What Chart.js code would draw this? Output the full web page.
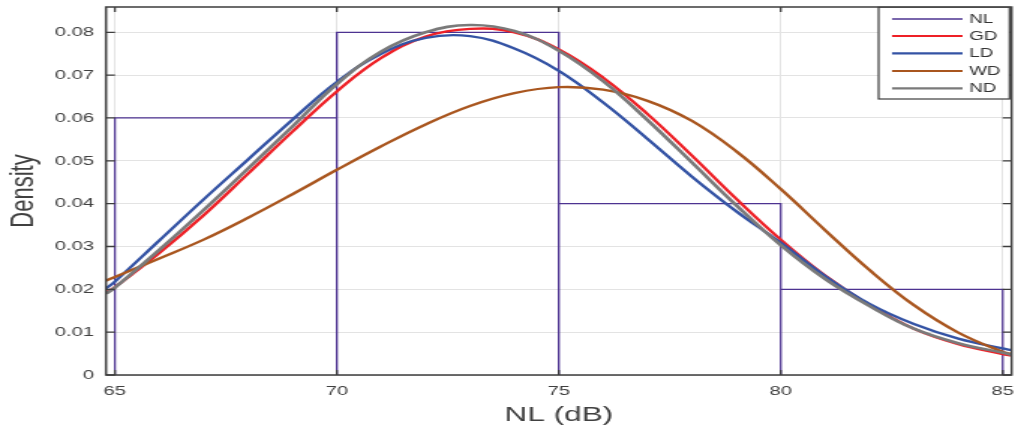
<!DOCTYPE html>
<html>
<head>
<meta charset="utf-8">
<script src="https://cdn.jsdelivr.net/npm/chart.js@4"></script>
<style>
  html, body { margin: 0; padding: 0; background: #ffffff; }
  #c { display: block; width: 1015px; height: 431px; }
</style>
</head>
<body>
<canvas id="c" width="677" height="431" style="width:1015px;height:431px;display:block"></canvas>
<script>
// ---- data ----
const binEdges   = [65, 70, 75, 80, 85];
const binDensity = [0.06, 0.08, 0.04, 0.02];

const xs = [64.8, 65, 66, 67, 68, 69, 70, 71, 72, 73, 74, 75, 76, 77, 78, 79, 80, 81, 82, 83, 84, 85, 85.2];
const gdValues = [0.0192, 0.0205, 0.0285, 0.0373, 0.0470, 0.0568, 0.0662, 0.0740, 0.0790, 0.0808, 0.0800, 0.0760, 0.0694, 0.0609, 0.0512, 0.0411, 0.0316, 0.0232, 0.0163, 0.0108, 0.0072, 0.0049, 0.0045];
const ldValues = [0.0202, 0.0218, 0.0314, 0.0410, 0.0503, 0.0596, 0.0684, 0.0750, 0.0787, 0.0791, 0.0762, 0.0710, 0.0636, 0.0551, 0.0463, 0.0382, 0.0309, 0.0231, 0.0166, 0.0119, 0.0085, 0.0062, 0.0058];
const wdValues = [0.0220, 0.0229, 0.0272, 0.0316, 0.0367, 0.0422, 0.0479, 0.0534, 0.0585, 0.0628, 0.0658, 0.0672, 0.0666, 0.0640, 0.0593, 0.0522, 0.0434, 0.0338, 0.0245, 0.0163, 0.0099, 0.0054, 0.0049];
const ndValues = [0.0190, 0.0204, 0.0292, 0.0385, 0.0482, 0.0580, 0.0679, 0.0755, 0.0800, 0.0817, 0.0803, 0.0757, 0.0686, 0.0595, 0.0496, 0.0396, 0.0303, 0.0224, 0.0161, 0.0108, 0.0074, 0.0052, 0.0047];

const seriesLabels = ['NL', 'GD', 'LD', 'WD', 'ND'];
const xTitle = 'NL (dB)';
const yTitle = 'Density';

// ---- build library structures ----
const histPoints = [];
for (let i = 0; i < binDensity.length; i++) {
  const x0 = binEdges[i], x1 = binEdges[i + 1], h = binDensity[i];
  histPoints.push({x: x0, y: 0}, {x: x0, y: h}, {x: x1, y: h}, {x: x1, y: 0});
}
const toPts = arr => xs.map((x, i) => ({x: x, y: arr[i]}));

const FONT = 'Liberation Sans, Arial, Helvetica, sans-serif';
const TEXT = '#404040';
const AXIS = '#3d3d3d';

const curve = (label, data, color, order, width) => ({
  label, data, borderColor: color, backgroundColor: color,
  borderWidth: width, pointRadius: 0, fill: false,
  tension: 0.4, order
});

const datasets = [
  { label: seriesLabels[0], data: histPoints, borderColor: '#4d3391', backgroundColor: '#4d3391',
    borderWidth: 1.3, pointRadius: 0, fill: false, tension: 0, order: 5, borderJoinStyle: 'miter' },
  curve(seriesLabels[1], toPts(gdValues), '#ee2026', 4, 2.4),
  curve(seriesLabels[2], toPts(ldValues), '#3453a4', 3, 2.4),
  curve(seriesLabels[3], toPts(wdValues), '#a9561f', 2, 2.4),
  curve(seriesLabels[4], toPts(ndValues), '#7a7a7a', 1, 2.7)
];

const framePlugin = {
  id: 'frame',
  afterDatasetsDraw(chart) {
    const {ctx, chartArea: a, scales} = chart;
    ctx.save();
    ctx.strokeStyle = AXIS;
    ctx.lineWidth = 1.5;
    ctx.strokeRect(a.left, a.top, a.right - a.left, a.bottom - a.top);
    ctx.lineWidth = 1.3;
    ctx.beginPath();
    scales.y.ticks.forEach(t => {
      const y = scales.y.getPixelForValue(t.value);
      ctx.moveTo(a.left, y); ctx.lineTo(a.left + 6, y);
      ctx.moveTo(a.right, y); ctx.lineTo(a.right - 6, y);
    });
    scales.x.ticks.forEach(t => {
      const x = scales.x.getPixelForValue(t.value);
      ctx.moveTo(x, a.top); ctx.lineTo(x, a.top + 5);
      ctx.moveTo(x, a.bottom); ctx.lineTo(x, a.bottom - 5);
    });
    ctx.stroke();
    ctx.restore();
  },
  afterDraw(chart) {
    const {ctx, chartArea: a} = chart;
    ctx.save();
    ctx.fillStyle = TEXT;
    ctx.font = '22px ' + FONT;
    ctx.textAlign = 'center';
    ctx.textBaseline = 'alphabetic';
    ctx.translate(22, (a.top + a.bottom) / 2);
    ctx.rotate(-Math.PI / 2);
    ctx.fillText(yTitle, 0, 0);
    ctx.restore();

    ctx.save();
    ctx.fillStyle = TEXT;
    ctx.font = '21px ' + FONT;
    ctx.textAlign = 'center';
    ctx.textBaseline = 'alphabetic';
    ctx.fillText(xTitle, (a.left + a.right) / 2, 421);
    ctx.restore();

    // legend box
    ctx.save();
    const bx = 586, by = 7.3, bw = 673.3 - 586, bh = 99 - 7.3;
    ctx.fillStyle = '#ffffff';
    ctx.fillRect(bx, by, bw, bh);
    ctx.strokeStyle = AXIS;
    ctx.lineWidth = 1.2;
    ctx.strokeRect(bx, by, bw, bh);
    const rows = [19, 36, 53.3, 71, 88.3];
    ctx.font = '12.5px ' + FONT;
    ctx.textAlign = 'left';
    ctx.textBaseline = 'middle';
    chart.data.datasets.forEach((ds, i) => {
      const y = rows[i];
      ctx.strokeStyle = ds.borderColor;
      ctx.lineWidth = i === 0 ? 1.6 : 2.2;
      ctx.beginPath();
      ctx.moveTo(595, y); ctx.lineTo(642, y);
      ctx.stroke();
      ctx.fillStyle = '#333333';
      ctx.fillText(ds.label, 646.5, y + 0.5);
    });
    ctx.restore();
  }
};

new Chart(document.getElementById('c'), {
  type: 'line',
  data: { datasets },
  options: {
    responsive: false,
    animation: false,
    devicePixelRatio: 1,
    layout: { padding: { top: 7, right: 2.3, bottom: 0, left: 0 } },
    plugins: { legend: { display: false }, tooltip: { enabled: false }, title: { display: false } },
    scales: {
      x: {
        type: 'linear', min: 64.8, max: 85.2,
        border: { display: false },
        grid: { color: '#e3e3e3', lineWidth: 1, drawTicks: false },
        ticks: { stepSize: 5, includeBounds: false, maxRotation: 0, autoSkip: false,
                 padding: 8, color: TEXT, font: { family: FONT, size: 13.5 },
                 callback: v => String(v) },
        afterFit(s) { s.height = 56; s.paddingLeft = 0; s.paddingRight = 0; }
      },
      y: {
        type: 'linear', min: 0, max: 0.0859,
        border: { display: false },
        grid: { color: '#e3e3e3', lineWidth: 1, drawTicks: false },
        ticks: { stepSize: 0.01, includeBounds: false, padding: 8, color: TEXT,
                 font: { family: FONT, size: 13.5 },
                 callback: v => (Math.abs(v) < 1e-9 ? '0' : v.toFixed(2)) },
        afterFit(s) { s.width = 70.7; s.paddingTop = 0; s.paddingBottom = 0; }
      }
    }
  },
  plugins: [framePlugin]
});
</script>
</body>
</html>
